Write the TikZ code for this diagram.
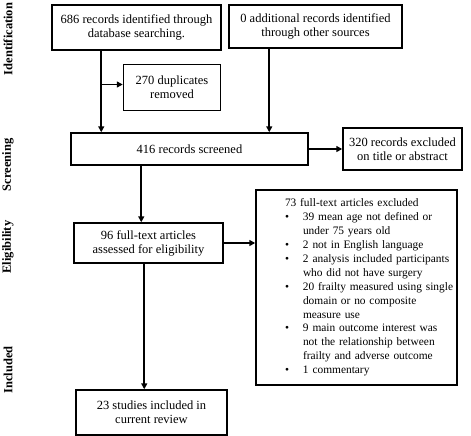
\documentclass[tikz,border=0pt]{standalone}
\usepackage{fontspec}
\setmainfont{Liberation Serif}
\usetikzlibrary{arrows.meta}

\begin{document}
\begin{tikzpicture}[x=1pt, y=-1pt,
    box/.style={draw, line width=1.5pt, align=center, inner sep=0pt, font=\fontsize{12.5}{14}\selectfont},
    arr/.style={line width=1.6pt, -{Triangle[length=6pt,width=6pt]}},
    phase/.style={rotate=90, font=\fontsize{12.5}{14}\selectfont\bfseries}]
    \useasboundingbox (0,0) rectangle (471,436);

    % phases
    \node[phase] (lid) at (8,39) {Identification};
    \node[phase] (lscr) at (8,165) {Screening};
    \node[phase] (lelig) at (8,247) {Eligibility};
    \node[phase] (linc) at (8,370) {Included};

    % identification
    \node[box, minimum width=169pt, minimum height=45pt] (found) at (136.5,27.5) {686 records identified through\\database searching.};
    \node[box, minimum width=173pt, minimum height=43pt] (other) at (315.5,26.5) {0 additional records identified\\through other sources};
    \node[box, minimum width=97pt, minimum height=46pt] (dupes) at (172,87.5) {270 duplicates\\removed};

    % screening
    \node[box, minimum width=237pt, minimum height=32pt] (screened) at (189.5,149) {416 records screened};
    \node[box, minimum width=119pt, minimum height=42pt] (excltitle) at (402.5,149) {320 records excluded\\on title or abstract};

    % eligibility
    \node[box, minimum width=149pt, minimum height=40pt] (fulltext) at (148.5,243) {96 full-text articles\\assessed for eligibility};
    \node[box, text width=201pt, minimum height=195pt, align=left, font=\fontsize{11.4}{13.9}\selectfont] (exclfull) at (356.5,287.5) {%
        \begin{tabular}{@{\hspace{29pt}}p{18pt}@{}l@{}}
        \multicolumn{2}{@{\hspace{29pt}}l@{}}{73 full-text articles excluded}\\
        \textbullet & 39 mean age not defined or\\
        & under 75 years old\\
        \textbullet & 2 not in English language\\
        \textbullet & 2 analysis included participants\\
        & who did not have surgery\\
        \textbullet & 20 frailty measured using single\\
        & domain or no composite\\
        & measure use\\
        \textbullet & 9 main outcome interest was\\
        & not the relationship between\\
        & frailty and adverse outcome\\
        \textbullet & 1 commentary
        \end{tabular}};

    % included
    \node[box, minimum width=151pt, minimum height=45pt] (included) at (151.5,412.5) {23 studies included in\\current review};

    % connectors
    \coordinate (afound) at ([xshift=50pt]found.south west);
    \coordinate (aother) at ([xshift=41pt]other.south west);
    \coordinate (ascr) at ([xshift=71pt]screened.south west);
    \coordinate (afull) at ([xshift=71pt]fulltext.south west);
    \coordinate (adupes) at ([yshift=3pt]dupes.west);
    \draw[arr] (afound) -- (afound |- screened.north);
    \draw[arr] (afound |- adupes) -- (adupes);
    \draw[arr] (aother) -- (aother |- screened.north);
    \draw[arr] (screened.east) -- (screened.east -| excltitle.west);
    \draw[arr] (ascr) -- (ascr |- fulltext.north);
    \draw[arr] (fulltext.east) -- (fulltext.east -| exclfull.west);
    \draw[arr] (afull) -- (afull |- included.north);
\end{tikzpicture}
\end{document}
